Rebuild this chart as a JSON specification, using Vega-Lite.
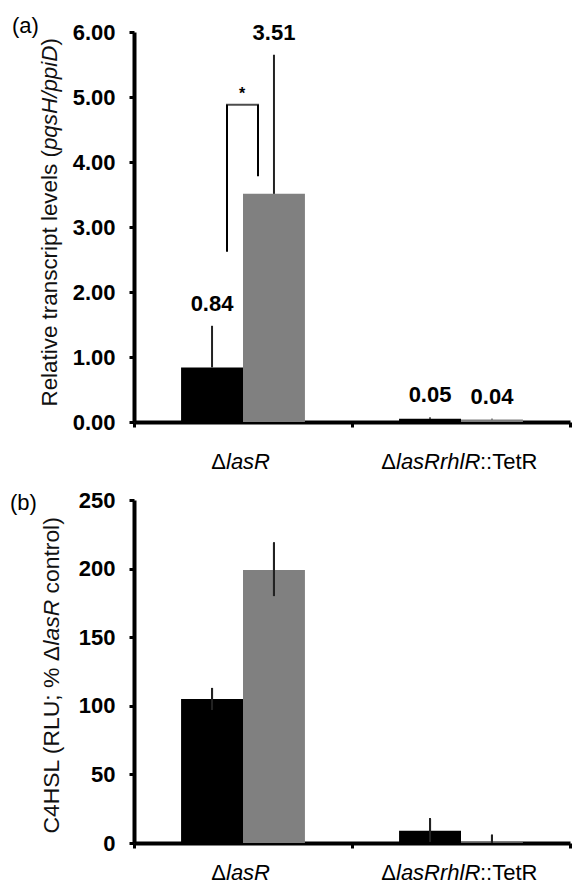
{
  "$schema": "https://vega.github.io/schema/vega-lite/v6.json",
  "background": "white",
  "padding": {"left": 10, "top": 15, "right": 0, "bottom": 0},
  "spacing": 17,
  "config": {
    "view": {"stroke": null},
    "font": "Liberation Sans",
    "axis": {
      "grid": false,
      "domainColor": "#000",
      "domainWidth": 4,
      "tickColor": "#000",
      "tickWidth": 3,
      "tickSize": 5,
      "labelColor": "#000",
      "titleColor": "#111",
      "labelFont": "Liberation Sans",
      "titleFont": "Liberation Sans",
      "labelFontSize": 22,
      "titleFontSize": 22,
      "titleFontWeight": "normal",
      "titleFontStyle": "normal"
    },
    "title": {"font": "Liberation Sans", "fontSize": 22, "fontWeight": "normal", "color": "#000"}
  },
  "datasets": {
    "a": [
      {"strain": "A", "cond": "c1", "value": 0.84, "lo": 0.84, "hi": 1.48, "label": "0.84"},
      {"strain": "A", "cond": "c2", "value": 3.51, "lo": 3.51, "hi": 5.65, "label": "3.51"},
      {"strain": "B", "cond": "c1", "value": 0.05, "lo": 0.05, "hi": 0.07, "label": "0.05"},
      {"strain": "B", "cond": "c2", "value": 0.04, "lo": 0.04, "hi": 0.05, "label": "0.04"}
    ],
    "b": [
      {"strain": "A", "cond": "c1", "value": 105, "lo": 97, "hi": 113},
      {"strain": "A", "cond": "c2", "value": 199, "lo": 180, "hi": 219},
      {"strain": "B", "cond": "c1", "value": 9, "lo": 1, "hi": 18},
      {"strain": "B", "cond": "c2", "value": 0.5, "lo": 0, "hi": 6}
    ],
    "bracket": [
      {"strain": "A", "side": "left", "y": 2.62, "y2": 4.88},
      {"strain": "A", "side": "right", "y": 3.78, "y2": 4.88},
      {"strain": "A", "side": "top", "y": 4.88, "y2": 4.88},
      {"strain": "A", "side": "star", "y": 5.1, "y2": 5.1}
    ]
  },
  "vconcat": [
    {
      "width": 436,
      "height": 390,
      "title": {"text": "(a)", "anchor": "start", "frame": "bounds", "dx": -26, "dy": 21},
      "resolve": {"axis": {"x": "independent", "y": "independent"}},
      "layer": [
        {
          "data": {"name": "a"},
          "mark": {"type": "bar", "width": {"band": 1}},
          "encoding": {
            "x": {"field": "strain", "type": "nominal", "scale": {"domain": ["A", "B"], "paddingInner": 0, "paddingOuter": 0},
              "axis": {"orient": "bottom", "title": null, "labelAngle": 0, "domain": false, "ticks": false, "labelExpr": "datum.value === 'A' ? 'lasR' : 'lasRrhlR'", "labelFontStyle": "italic", "labelAlign": "left", "labelOffset": {"condition": {"test": "datum.value === 'A'", "value": -17}, "value": -65}, "labelPadding": 29, "labelOverlap": false, "labelBound": false}},
            "xOffset": {"field": "cond", "type": "nominal", "scale": {"domain": ["c1", "c2"], "paddingInner": 0, "paddingOuter": 0.76}},
            "y": {"field": "value", "type": "quantitative", "scale": {"domain": [0, 6], "nice": false},
              "axis": {"orient": "left", "title": "Relative transcript levels (", "titleFontSize": 22.4, "titleFontStyle": "normal", "titleX": -78, "titleY": 374, "titleAngle": 270, "titleAlign": "left", "titleBaseline": "alphabetic", "values": [0, 1, 2, 3, 4, 5, 6], "format": ".2f", "labelFontWeight": "bold", "labelPadding": 14}},
            "color": {"field": "cond", "type": "nominal", "scale": {"domain": ["c1", "c2"], "range": ["#000000", "#808080"]}, "legend": null}
          }
        },
        {
          "data": {"name": "a"},
          "mark": {"type": "rule", "color": "#222", "strokeWidth": 2},
          "encoding": {
            "x": {"field": "strain", "type": "nominal",
              "axis": {"orient": "bottom", "title": null, "labelAngle": 0, "domain": false, "ticks": false, "labelExpr": "'Δ'", "labelAlign": "right", "labelOffset": {"condition": {"test": "datum.value === 'A'", "value": -17}, "value": -65}, "labelPadding": 29, "labelOverlap": false, "labelBound": false}},
            "xOffset": {"field": "cond", "type": "nominal"},
            "y": {"field": "lo", "type": "quantitative",
              "axis": {"orient": "left", "labels": false, "ticks": false, "domain": false, "title": "pqsH/ppiD", "titleFontSize": 22.4, "titleFontStyle": "italic", "titleX": -78, "titleY": 117.6, "titleAngle": 270, "titleAlign": "left", "titleBaseline": "alphabetic"}},
            "y2": {"field": "hi"}
          }
        },
        {
          "data": {"name": "a"},
          "mark": {"type": "text", "fontWeight": "bold", "fontSize": 22, "baseline": "alphabetic", "dy": -15, "color": "#000"},
          "encoding": {
            "x": {"field": "strain", "type": "nominal",
              "axis": {"orient": "bottom", "title": null, "labelAngle": 0, "domain": false, "ticks": false, "labelExpr": "datum.value === 'A' ? '' : '::TetR'", "labelAlign": "left", "labelOffset": 19, "labelPadding": 29, "labelOverlap": false, "labelBound": false}},
            "xOffset": {"field": "cond", "type": "nominal"},
            "y": {"field": "hi", "type": "quantitative",
              "axis": {"orient": "left", "labels": false, "ticks": false, "domain": false, "title": ")", "titleFontSize": 22.4, "titleFontStyle": "normal", "titleX": -78, "titleY": 13, "titleAngle": 270, "titleAlign": "left", "titleBaseline": "alphabetic"}},
            "text": {"field": "label"}
          }
        },
        {
          "data": {"name": "bracket"},
          "transform": [{"filter": "datum.side === 'left'"}],
          "mark": {"type": "rule", "color": "#000", "strokeWidth": 2, "xOffset": -16},
          "encoding": {
            "x": {"field": "strain", "type": "nominal",
              "axis": {"orient": "bottom", "title": null, "labels": false, "ticks": true, "tickBand": "extent", "domain": true}},
            "y": {"field": "y", "type": "quantitative", "axis": null},
            "y2": {"field": "y2"}
          }
        },
        {
          "data": {"name": "bracket"},
          "transform": [{"filter": "datum.side === 'right'"}],
          "mark": {"type": "rule", "color": "#000", "strokeWidth": 2, "xOffset": 15},
          "encoding": {
            "x": {"field": "strain", "type": "nominal", "axis": null},
            "y": {"field": "y", "type": "quantitative", "axis": null},
            "y2": {"field": "y2"}
          }
        },
        {
          "data": {"name": "bracket"},
          "transform": [{"filter": "datum.side === 'top'"}],
          "mark": {"type": "tick", "color": "#000", "orient": "horizontal", "size": 33, "thickness": 2, "xOffset": -0.5},
          "encoding": {
            "x": {"field": "strain", "type": "nominal", "axis": null},
            "y": {"field": "y", "type": "quantitative", "axis": null}
          }
        },
        {
          "data": {"name": "bracket"},
          "transform": [{"filter": "datum.side === 'star'"}],
          "mark": {"type": "text", "text": "*", "fontSize": 16, "fontWeight": "bold", "baseline": "middle", "dx": -1, "dy": 3, "color": "#000"},
          "encoding": {
            "x": {"field": "strain", "type": "nominal", "axis": null},
            "y": {"field": "y", "type": "quantitative", "axis": null}
          }
        }
      ]
    },
    {
      "width": 436,
      "height": 343,
      "title": {"text": "(b)", "anchor": "start", "frame": "bounds", "dx": -30, "dy": 30},
      "resolve": {"axis": {"x": "independent", "y": "independent"}},
      "layer": [
        {
          "data": {"name": "b"},
          "mark": {"type": "bar", "width": {"band": 1}},
          "encoding": {
            "x": {"field": "strain", "type": "nominal", "scale": {"domain": ["A", "B"], "paddingInner": 0, "paddingOuter": 0},
              "axis": {"orient": "bottom", "title": null, "labelAngle": 0, "domain": false, "ticks": false, "labelExpr": "datum.value === 'A' ? 'lasR' : 'lasRrhlR'", "labelFontStyle": "italic", "labelAlign": "left", "labelOffset": {"condition": {"test": "datum.value === 'A'", "value": -17}, "value": -65}, "labelPadding": 19, "labelOverlap": false, "labelBound": false}},
            "xOffset": {"field": "cond", "type": "nominal", "scale": {"domain": ["c1", "c2"], "paddingInner": 0, "paddingOuter": 0.76}},
            "y": {"field": "value", "type": "quantitative", "scale": {"domain": [0, 250], "nice": false},
              "axis": {"orient": "left", "title": "C4HSL (RLU; % Δ", "titleFontSize": 22.9, "titleFontStyle": "normal", "titleX": -76, "titleY": 333, "titleAngle": 270, "titleAlign": "left", "titleBaseline": "alphabetic", "values": [0, 50, 100, 150, 200, 250], "labelFontWeight": "bold", "labelPadding": 14}},
            "color": {"field": "cond", "type": "nominal", "scale": {"domain": ["c1", "c2"], "range": ["#000000", "#808080"]}, "legend": null}
          }
        },
        {
          "data": {"name": "b"},
          "mark": {"type": "rule", "color": "#222", "strokeWidth": 2},
          "encoding": {
            "x": {"field": "strain", "type": "nominal",
              "axis": {"orient": "bottom", "title": null, "labelAngle": 0, "domain": false, "ticks": false, "labelExpr": "'Δ'", "labelAlign": "right", "labelOffset": {"condition": {"test": "datum.value === 'A'", "value": -17}, "value": -65}, "labelPadding": 19, "labelOverlap": false, "labelBound": false}},
            "xOffset": {"field": "cond", "type": "nominal"},
            "y": {"field": "lo", "type": "quantitative",
              "axis": {"orient": "left", "labels": false, "ticks": false, "domain": false, "title": "lasR", "titleFontSize": 22.9, "titleFontStyle": "italic", "titleX": -76, "titleY": 145, "titleAngle": 270, "titleAlign": "left", "titleBaseline": "alphabetic"}},
            "y2": {"field": "hi"}
          }
        },
        {
          "data": {"name": "b"},
          "mark": {"type": "rule", "color": "#222", "strokeWidth": 2},
          "encoding": {
            "x": {"field": "strain", "type": "nominal",
              "axis": {"orient": "bottom", "title": null, "labelAngle": 0, "domain": false, "ticks": false, "labelExpr": "datum.value === 'A' ? '' : '::TetR'", "labelAlign": "left", "labelOffset": 19, "labelPadding": 19, "labelOverlap": false, "labelBound": false}},
            "xOffset": {"field": "cond", "type": "nominal"},
            "y": {"field": "lo", "type": "quantitative",
              "axis": {"orient": "left", "labels": false, "ticks": false, "domain": false, "title": "control)", "titleFontSize": 22.9, "titleFontStyle": "normal", "titleX": -76, "titleY": 93, "titleAngle": 270, "titleAlign": "left", "titleBaseline": "alphabetic"}},
            "y2": {"field": "hi"}
          }
        },
        {
          "data": {"name": "b"},
          "mark": {"type": "rule", "color": "#222", "strokeWidth": 2},
          "encoding": {
            "x": {"field": "strain", "type": "nominal",
              "axis": {"orient": "bottom", "title": null, "labels": false, "ticks": true, "tickBand": "extent", "domain": true}},
            "xOffset": {"field": "cond", "type": "nominal"},
            "y": {"field": "lo", "type": "quantitative", "axis": null},
            "y2": {"field": "hi"}
          }
        }
      ]
    }
  ]
}
